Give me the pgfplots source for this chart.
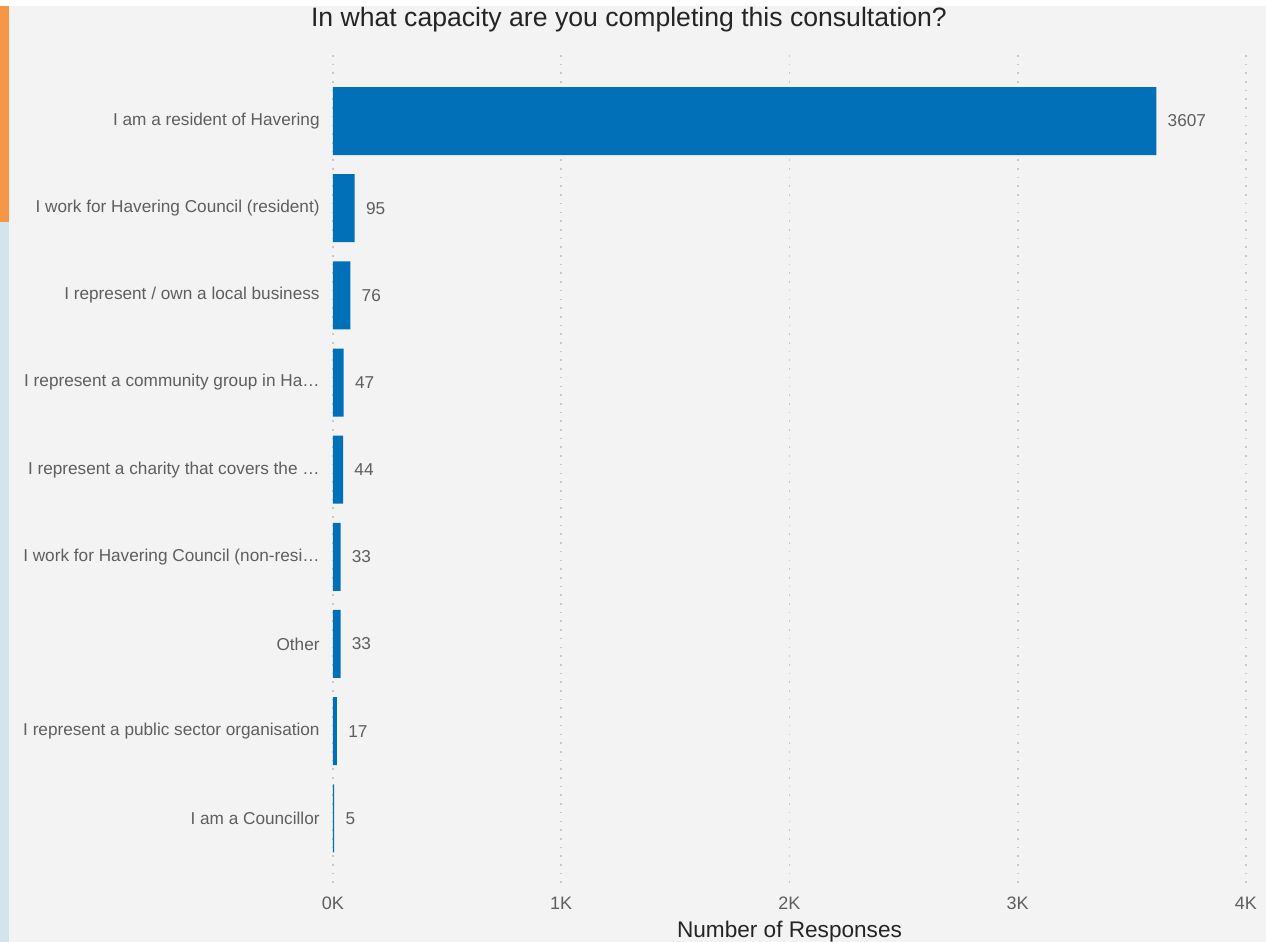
\documentclass[border=0pt]{standalone}
\usepackage{pgfplots}
\pgfplotsset{compat=1.18}
\usepackage{fontspec}
\setmainfont{Liberation Sans}
\definecolor{bg}{HTML}{F3F3F3}
\definecolor{stripor}{HTML}{F79646}
\definecolor{stripbl}{HTML}{D2E4EC}
\definecolor{barblue}{HTML}{0170B8}
\definecolor{lab}{HTML}{605E5C}
\definecolor{titc}{HTML}{252423}
\definecolor{gridc}{HTML}{C8C8C8}
\begin{document}
\begin{tikzpicture}
\fill[white] (0,0) rectangle (633pt,471pt);
\fill[bg] (0,0) rectangle (633pt,468pt);
\fill[stripor] (0,360pt) rectangle (4.5pt,468pt);
\fill[stripbl] (0,0) rectangle (4.5pt,360pt);
\begin{axis}[
  at={(166.5pt,27pt)}, anchor=south west,
  scale only axis, width=456.5pt, height=416.5pt,
  xmin=0, xmax=4000, ymin=-0.758, ymax=8.80, y dir=reverse,
  xbar, bar width=0.78, bar shift=0pt,
  /pgf/number format/.cd, 1000 sep={}, assume math mode=true, /pgfplots/.cd,
  xtick={0,1000,2000,3000,4000}, xticklabels={0K,1K,2K,3K,4K},
  ytick={0,1,2,3,4,5,6,7,8},
  yticklabels={{I am a resident of Havering},{I work for Havering Council (resident)},{I represent / own a local business},{I represent a community group in Ha…},{I represent a charity that covers the …},{I work for Havering Council (non-resi…},{Other},{I represent a public sector organisation},{I am a Councillor}},
  xmajorgrids, ymajorgrids=false,
  grid style={gridc, line width=0.9pt, dash pattern=on 0.8pt off 3.55pt},
  axis line style={draw=none}, major tick length=0pt,
  xticklabel style={font=\fontsize{9pt}{10pt}\selectfont, text=lab, anchor=north, inner sep=0pt, yshift=-4.5pt},
  yticklabel style={font=\fontsize{8.6pt}{10pt}\selectfont, text=lab, anchor=east, inner sep=0pt, xshift=-6.5pt},
  xlabel={Number of Responses},
  xlabel style={font=\fontsize{11.3pt}{13pt}\selectfont, text=titc, at={(axis description cs:0.5,0)}, anchor=center, yshift=-22pt},
  nodes near coords, point meta=x,
  nodes near coords style={font=\fontsize{8.6pt}{10pt}\selectfont, text=lab, anchor=west, inner sep=0pt, xshift=5.5pt},
]
\addplot[fill=barblue, draw=none] coordinates {(3607,0) (95,1) (76,2) (47,3) (44,4) (33,5) (33,6) (17,7) (5,8)};
\end{axis}
\node[font=\fontsize{13.3pt}{15pt}\selectfont, text=titc] at (314.5pt,461pt) {In what capacity are you completing this consultation?};
\pgfresetboundingbox
\useasboundingbox (0,0) rectangle (633pt,471pt);
\end{tikzpicture}
\end{document}
